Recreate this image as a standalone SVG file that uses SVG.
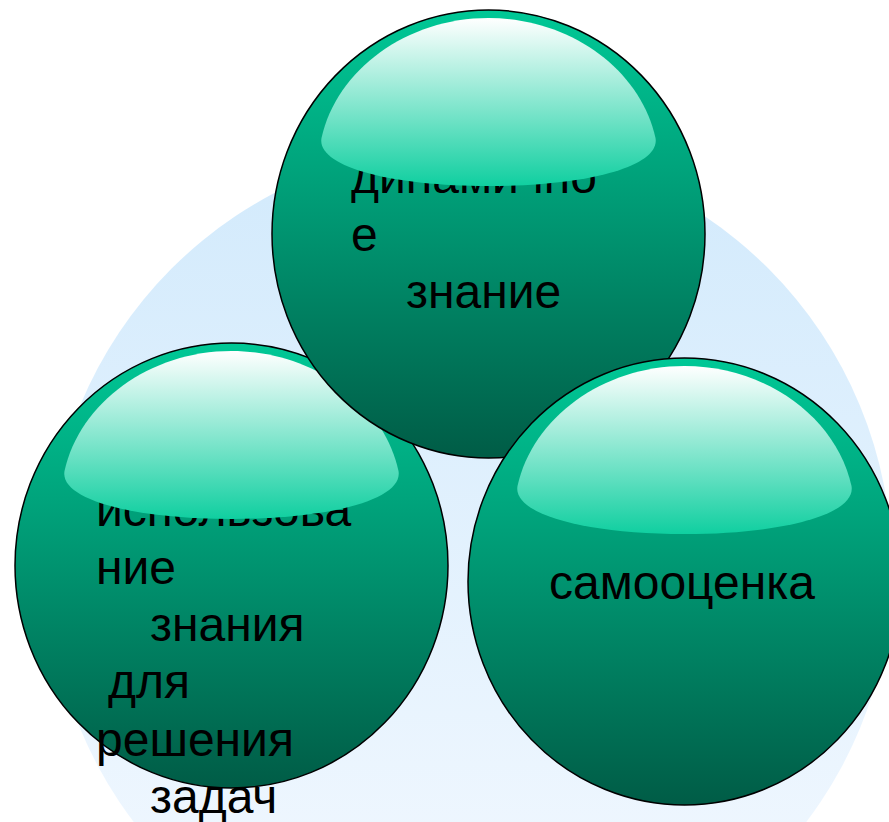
<svg xmlns="http://www.w3.org/2000/svg" width="889" height="822" viewBox="0 0 889 822">
<defs>
<linearGradient id="bgGrad" x1="0" y1="0" x2="0" y2="1">
<stop offset="0" stop-color="#d2eafc"/>
<stop offset="1" stop-color="#f4f9ff"/>
</linearGradient>
<linearGradient id="ballGrad" x1="0" y1="0" x2="0" y2="1">
<stop offset="0" stop-color="#00c896"/>
<stop offset="0.35" stop-color="#00a47c"/>
<stop offset="1" stop-color="#005c46"/>
</linearGradient>
<linearGradient id="hiGrad" x1="0" y1="0" x2="0" y2="1">
<stop offset="0" stop-color="#ffffff"/>
<stop offset="1" stop-color="#10cfa0"/>
</linearGradient>
<path id="hl" d="M -167 128 C -152 60 -82 8 0 8 C 82 8 152 60 167 128 C 172 156 100 176 0 176 C -100 176 -172 156 -167 128 Z"/>
</defs>
<style>
.ball{fill:url(#ballGrad);stroke:#000;stroke-width:1.5}
.hi{fill:url(#hiGrad)}
.lbl{font-family:"Liberation Sans",Arial,sans-serif;font-size:48px;fill:#000}
</style>
<rect width="889" height="822" fill="#ffffff"/>
<circle id="bg" cx="470" cy="567" r="422" fill="url(#bgGrad)"/>
<g id="node-left">
<ellipse class="ball" cx="231.5" cy="565.5" rx="216.5" ry="222.5"/>
<text class="lbl"><tspan x="96" y="526">использова</tspan><tspan x="96" y="583.5">ние</tspan><tspan x="150" y="641">знания</tspan><tspan x="108" y="698">для</tspan><tspan x="96" y="755.5">решения</tspan><tspan x="150" y="813">задач</tspan></text>
<use href="#hl" class="hi" transform="translate(231.5,343)"/>
</g>
<g id="node-top">
<ellipse class="ball" cx="488.5" cy="234" rx="216.5" ry="224"/>
<text class="lbl"><tspan x="351" y="193">динамично</tspan><tspan x="351" y="250.5">е</tspan><tspan x="406" y="308">знание</tspan></text>
<use href="#hl" class="hi" transform="translate(488.5,10)"/>
</g>
<g id="node-right">
<ellipse class="ball" cx="684.5" cy="581.5" rx="216.5" ry="223.5"/>
<text class="lbl"><tspan x="549" y="599">самооценка</tspan></text>
<use href="#hl" class="hi" transform="translate(684.5,358)"/>
</g>
<g id="connectors"></g>
</svg>
